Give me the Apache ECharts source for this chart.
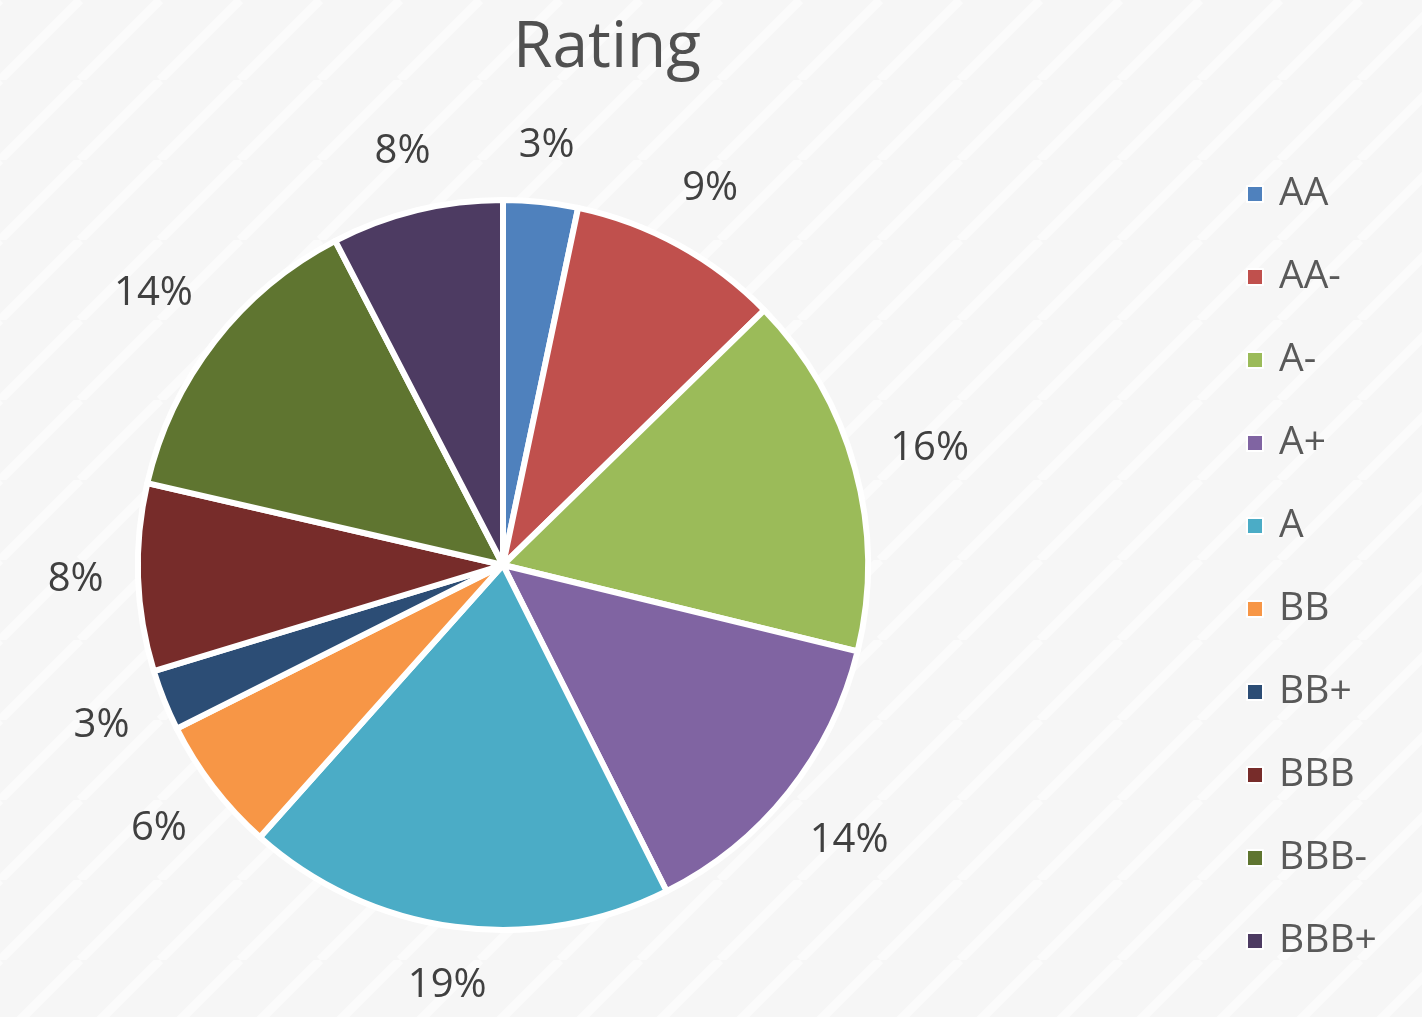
<!DOCTYPE html>
<html>
<head>
<meta charset="utf-8">
<script src="https://cdn.jsdelivr.net/npm/echarts@6/dist/echarts.min.js"></script>
<style>
  html, body { margin: 0; padding: 0; background: #f6f6f6; }
  #chart { width: 1422px; height: 1017px; }
</style>
</head>
<body>
<div id="chart"></div>
<script>
// rating buckets and their share
const ratings = ["AA", "AA-", "A-", "A+", "A", "BB", "BB+", "BBB", "BBB-", "BBB+"];
const shares = [3.3, 9.4, 16.1, 13.8, 19.0, 6.0, 2.7, 8.3, 13.8, 7.6];
const colors = ["#4F81BD", "#C0504D", "#9BBB59", "#8064A2", "#4BACC6",
                "#F79646", "#2C4D75", "#772C2A", "#5F7530", "#4D3B62"];

const CX = 503, CY = 565, R = 365, LABEL_GAP = 34;

// faint diagonal stripes like the slide background
function stripes() {
  const s = 80;
  const c = document.createElement("canvas");
  c.width = s; c.height = s;
  const g = c.getContext("2d");
  g.fillStyle = "#f6f6f6";
  g.fillRect(0, 0, s, s);
  g.strokeStyle = "rgba(255,255,255,0.6)";
  g.lineWidth = 9;
  for (let k = -1; k <= 1; k++) {
    g.beginPath();
    g.moveTo(k * s, s);
    g.lineTo(k * s + s, 0);
    g.stroke();
  }
  return c;
}

const total = shares.reduce((a, b) => a + b, 0);
const cum = [];
shares.reduce((acc, v, i) => { cum[i] = acc; return acc + v; }, 0);

let myChart = echarts.init(document.getElementById("chart"));
var options = {
  backgroundColor: { image: stripes(), repeat: "repeat" },
  color: colors,
  title: {
    text: "Rating",
    left: 508,
    top: 4,
    textStyle: {
      fontFamily: "Open Sans",
      fontSize: 64,
      fontWeight: "normal",
      color: "#505050",
      lineHeight: 80,
    },
  },
  legend: {
    orient: "vertical",
    left: 1241,
    top: 169,
    icon: "rect",
    itemWidth: 16,
    itemHeight: 16,
    itemGap: 43,
    data: ratings,
    textStyle: {
      fontFamily: "Open Sans",
      fontSize: 39,
      color: "#595959",
      lineHeight: 40,
      padding: [0, 0, 0, 11],
    },
  },
  series: [
    {
      type: "pie",
      center: [CX, CY],
      radius: [0, R],
      startAngle: 90,
      clockwise: true,
      avoidLabelOverlap: false,
      itemStyle: { borderColor: "#ffffff", borderWidth: 6 },
      label: {
        show: true,
        position: "outside",
        fontFamily: "Open Sans",
        fontSize: 40,
        color: "#404040",
        formatter: (p) => Math.round(p.percent) + "%",
      },
      labelLine: { show: false },
      // place each label box just outside its slice, on the slice's mid-angle
      labelLayout: function (p) {
        const i = p.dataIndex;
        const a = ((cum[i] + shares[i] / 2) / total) * Math.PI * 2;
        const sx = Math.sin(a), cy = Math.cos(a);
        const d = R + LABEL_GAP +
          Math.abs(sx) * p.labelRect.width / 2 +
          Math.abs(cy) * p.labelRect.height / 2;
        return {
          x: CX + d * sx,
          y: CY - d * cy,
          align: "center",
          verticalAlign: "middle",
        };
      },
      emphasis: { disabled: true },
      data: ratings.map((n, i) => ({ name: n, value: shares[i] })),
    },
  ],
};
myChart.setOption(options);
</script>
</body>
</html>
